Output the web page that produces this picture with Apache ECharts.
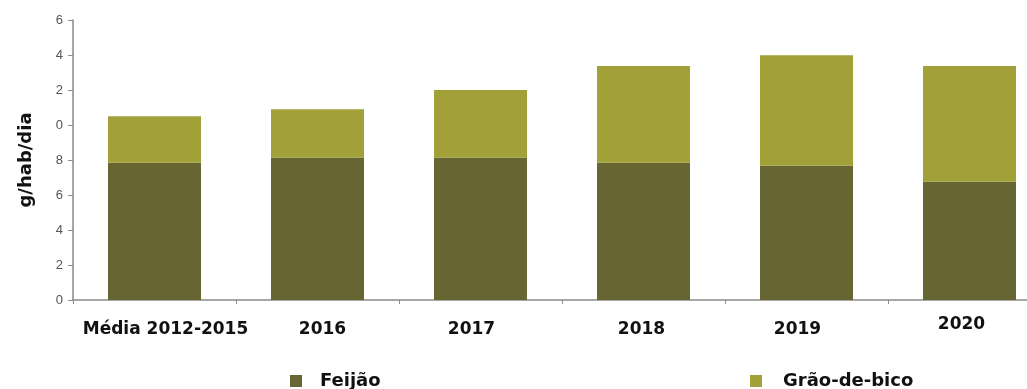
<!DOCTYPE html>
<html>
<head>
<meta charset="utf-8">
<script src="https://cdn.jsdelivr.net/npm/echarts@6/dist/echarts.min.js"></script>
<style>
  html, body { margin: 0; padding: 0; background: #ffffff; }
  #chart { width: 1027px; height: 389px; }
</style>
</head>
<body>
<div id="chart"></div>
<script>
// Consumo per capita (g/hab/dia) por período
const categories = ['Média 2012-2015', '2016', '2017', '2018', '2019', '2020'];
const feijao = [7.85, 8.15, 8.15, 7.85, 7.67, 6.76];
const graoDeBico = [2.65, 2.75, 3.85, 5.52, 6.31, 6.61];
const yTickLabels = ['0', '2', '4', '6', '8', '0', '2', '4', '6'];

// small horizontal / vertical nudges of the category labels: [dx, dy]
const labelShift = [[11, 0], [5, 0], [-9, 0], [-2, 0], [-9, 0], [-8, -5]];

const FEIJAO_COLOR = '#676633';
const GRAO_COLOR = '#a1a039';
const AXIS_COLOR = '#8a8a8a';

const chart = echarts.init(document.getElementById('chart'), null, { renderer: 'canvas' });

const categoryData = categories.map((c, i) => {
  const [dx, dy] = labelShift[i];
  return {
    value: c,
    textStyle: {
      padding: [5 + dy > 0 ? 5 + dy : 0, dx < 0 ? -2 * dx : 0, 0, dx > 0 ? 2 * dx : 0]
    }
  };
});

const legendText = (pad) => ({
  fontFamily: 'DejaVu Sans',
  fontWeight: 'bold',
  fontSize: 18,
  color: '#111111',
  padding: [0, 0, 0, pad]
});

chart.setOption({
  animation: false,
  backgroundColor: '#ffffff',
  grid: {
    left: 73,
    top: 20,
    width: 978,
    height: 280,
    outerBoundsMode: 'none'
  },
  legend: [
    {
      data: ['Feijão'],
      left: 285,
      top: 367,
      icon: 'rect',
      itemWidth: 12,
      itemHeight: 12,
      selectedMode: false,
      textStyle: legendText(13)
    },
    {
      data: ['Grão-de-bico'],
      left: 745,
      top: 367,
      icon: 'rect',
      itemWidth: 12,
      itemHeight: 12,
      selectedMode: false,
      textStyle: legendText(16)
    }
  ],
  xAxis: {
    type: 'category',
    data: categoryData,
    axisLine: { lineStyle: { color: AXIS_COLOR, width: 1.5 } },
    axisTick: { show: true, length: 4, interval: 0, lineStyle: { color: AXIS_COLOR, width: 1 } },
    axisLabel: {
      interval: 0,
      margin: 16,
      fontFamily: 'DejaVu Sans',
      fontWeight: 'bold',
      fontSize: 17,
      color: '#111111'
    },
    splitLine: { show: false }
  },
  yAxis: {
    type: 'value',
    min: 0,
    max: 16,
    interval: 2,
    name: 'g/hab/dia',
    nameLocation: 'middle',
    nameRotate: 90,
    nameGap: 38,
    nameTextStyle: {
      fontFamily: 'DejaVu Sans',
      fontWeight: 'bold',
      fontSize: 18,
      color: '#111111'
    },
    axisLine: { show: true, lineStyle: { color: AXIS_COLOR, width: 1.5 } },
    axisTick: { show: true, length: 5, inside: false, lineStyle: { color: AXIS_COLOR, width: 1 } },
    axisLabel: {
      margin: 10,
      fontFamily: 'Liberation Sans',
      fontSize: 13,
      color: '#555555',
      formatter: (v) => yTickLabels[Math.round(v / 2)]
    },
    splitLine: { show: false }
  },
  series: [
    {
      name: 'Feijão',
      type: 'bar',
      stack: 'total',
      barWidth: 93,
      data: feijao,
      itemStyle: { color: FEIJAO_COLOR }
    },
    {
      name: 'Grão-de-bico',
      type: 'bar',
      stack: 'total',
      barWidth: 93,
      data: graoDeBico,
      itemStyle: { color: GRAO_COLOR }
    }
  ]
});
</script>
</body>
</html>
